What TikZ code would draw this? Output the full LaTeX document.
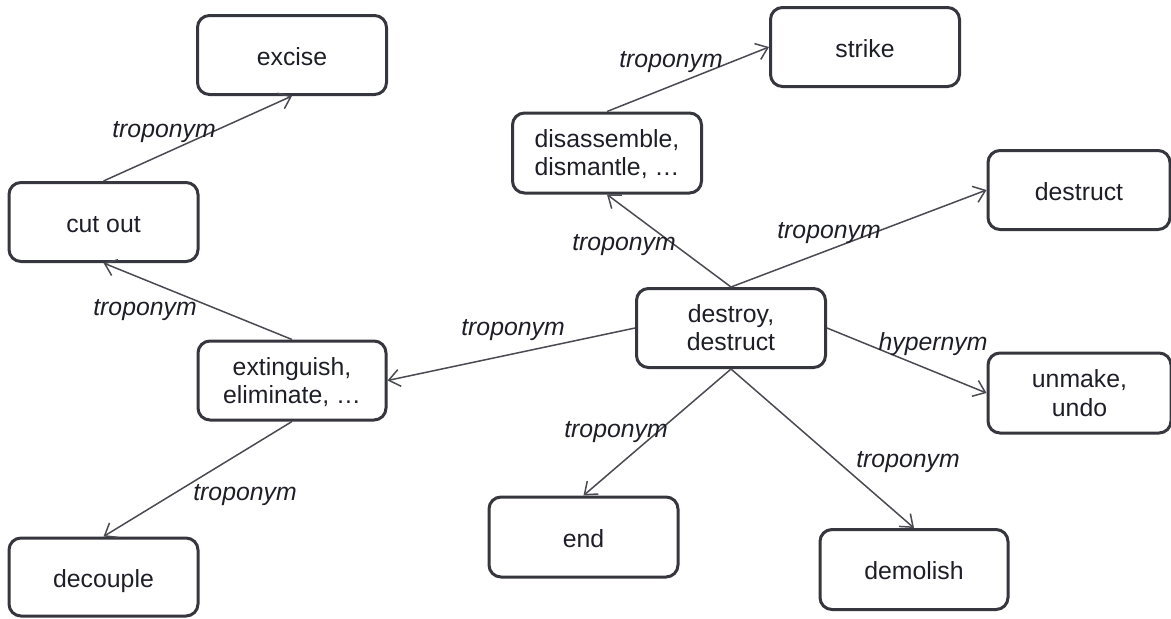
\documentclass[tikz,border=0pt]{standalone}
\usepackage{fontspec}
\setmainfont{Liberation Sans}
\usetikzlibrary{arrows.meta}
\definecolor{boxc}{HTML}{36363E}
\definecolor{edgec}{HTML}{4A4A52}
\definecolor{txt}{HTML}{1E1E28}
\begin{document}
\begin{tikzpicture}[x=0.5pt,y=-0.5pt,
  box/.style={draw=boxc, line width=1.5pt, rounded corners=6pt, minimum width=94.5pt, minimum height=39.5pt, inner sep=0pt, align=center, text=txt, font=\fontsize{12.4}{14}\selectfont},
  one/.style={box, text height=11pt, text depth=1pt},
  two/.style={box, text depth=0pt},
  lbl/.style={font=\fontsize{12.4}{14}\selectfont\itshape, text=txt, inner sep=0pt},
  rel/.style={draw=edgec, line width=0.75pt, -{Straight Barb[length=5.5pt,width=8.5pt,line width=0.75pt]}}]
\useasboundingbox (0,0) rectangle (1171,618);
% nodes
\node[one] (excise) at (292,55) {excise};
\node[one] (cutout) at (103.5,222) {cut out};
\node[one] (strike) at (865,47) {strike};
\node[two, minimum height=40pt] (disassemble) at (607,153) {disassemble,\\dismantle, \dots};
\node[one, minimum width=91pt] (destruct) at (1079,190) {destruct};
\node[two] (destroy) at (731,328) {destroy,\\destruct};
\node[two, minimum width=91.5pt, minimum height=40pt] (unmake) at (1079.5,393) {unmake,\\undo};
\node[two, minimum width=94pt] (extinguish) at (292,380.5) {extinguish,\\eliminate, \dots};
\node[one, minimum height=39pt] (decouple) at (103.5,577) {decouple};
\node[one, minimum height=40pt] (end) at (583.5,537) {end};
\node[one, minimum width=94pt, minimum height=40pt] (demolish) at (914,569.5) {demolish};
% connectors
\draw[rel] (cutout.north) -- (excise.south);
\draw[rel] (extinguish.north) -- (cutout.south);
\draw[rel] (destroy.west) -- (extinguish.east);
\draw[rel] (extinguish.south) -- (decouple.north);
\draw[rel] (disassemble.north) -- (strike.west);
\draw[rel] (destroy.north) -- (disassemble.south);
\draw[rel] (destroy.north) -- (destruct.west);
\draw[rel] (destroy.east) -- (unmake.west);
\draw[rel] (destroy.south) -- (end.north);
\draw[rel] (destroy.south) -- (demolish.north);
% labels
\node[lbl] (l1) at (164,132.5) {troponym};
\node[lbl] (l2) at (145,310.5) {troponym};
\node[lbl] (l3) at (513,330.5) {troponym};
\node[lbl] (l4) at (245,495.5) {troponym};
\node[lbl] (l5) at (671,62.5) {troponym};
\node[lbl] (l6) at (624,245.5) {troponym};
\node[lbl] (l7) at (829,233.5) {troponym};
\node[lbl] (l8) at (933,344.5) {hypernym};
\node[lbl] (l9) at (616,432.5) {troponym};
\node[lbl] (l10) at (908,462.5) {troponym};
\end{tikzpicture}
\end{document}
